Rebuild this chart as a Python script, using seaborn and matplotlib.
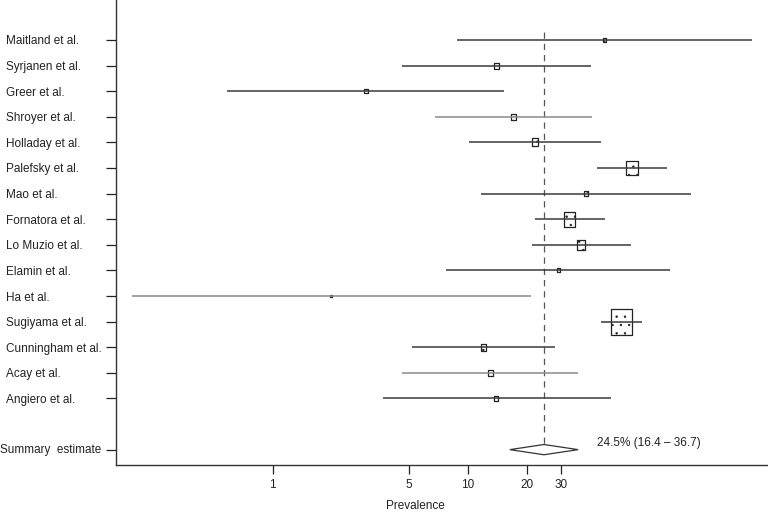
import numpy as np
import pandas as pd
import matplotlib
matplotlib.use("Agg")
import matplotlib.pyplot as plt
import matplotlib.transforms as mtransforms
from matplotlib.path import Path
import seaborn as sns

# study data (prevalence, %)
studies = ["Maitland et al.", "Syrjanen et al.", "Greer et al.", "Shroyer et al.",
           "Holladay et al.", "Palefsky et al.", "Mao et al.", "Fornatora et al.",
           "Lo Muzio et al.", "Elamin et al.", "Ha et al.", "Sugiyama et al.",
           "Cunningham et al.", "Acay et al.", "Angiero et al."]
estimate = [50.2, 14.0, 3.0, 17.1, 22.1, 69.6, 40.3, 33.1, 38.1, 29.2, 1.98, 61.1, 12.0, 13.0, 14.0]
ci_low = [8.8, 4.6, 0.58, 6.75, 10.1, 46.0, 11.7, 22.0, 21.3, 7.7, 0.19, 48.3, 5.16, 4.6, 3.67]
ci_high = [286, 42.6, 15.3, 43.1, 48.3, 105, 139, 50.2, 68.8, 109, 21.0, 77.8, 28.0, 36.8, 54.1]
weight = [4, 6, 4, 6, 8, 14.7, 5, 14.7, 10, 4, 2.5, 26, 7, 6, 5]  # box height, relative weight

summary_label = "Summary  estimate"
summary = [16.4, 24.5, 36.7]
xticks = [1, 5, 10, 20, 30]

df = pd.DataFrame({"study": studies, "est": estimate, "lo": ci_low,
                   "hi": ci_high, "w": weight})
df["row"] = np.arange(len(df))
df["s"] = (np.array(weight) * 0.72) ** 2
summary_row = len(df) + 1

sns.set_theme(style="ticks")
plt.rcParams["font.family"] = ["Liberation Sans", "DejaVu Sans"]
plt.rcParams["hatch.linewidth"] = 0.5
plt.rcParams["hatch.color"] = "#555555"

fig = plt.figure(figsize=(7.68, 5.12), dpi=100)
ax = fig.add_axes([0.151, 0.0918, 0.849, 0.9082])

line_col = "#3a3a3a"
light_rows = {"Shroyer et al.", "Ha et al.", "Acay et al."}
for _, r in df.iterrows():
    c = "#8a8a8a" if r["study"] in light_rows else line_col
    ax.hlines(r["row"], r["lo"], r["hi"], color=c, lw=1.1, zorder=3)

box = Path([(-0.4, -0.5), (0.4, -0.5), (0.4, 0.5), (-0.4, 0.5), (-0.4, -0.5)],
           [Path.MOVETO, Path.LINETO, Path.LINETO, Path.LINETO, Path.CLOSEPOLY])
smin, smax = df["s"].min(), df["s"].max()
sns.scatterplot(data=df, x="est", y="row", size="s", sizes=(smin, smax),
                size_norm=(smin, smax), marker=box, color="white",
                edgecolor="#222222", linewidth=0.9, legend=False, ax=ax, zorder=2)
ax.collections[-1].set_hatch("..")

# summary diamond and reference line
lo, mid, hi = summary
ax.fill([lo, mid, hi, mid], [summary_row, summary_row - 0.2, summary_row, summary_row + 0.2],
        facecolor="white", edgecolor="#333333", lw=0.9, zorder=4)
ax.plot([mid, mid], [-0.3, summary_row], color="#555555", lw=0.9,
        ls=(0, (5, 4)), zorder=1)
ax.text(45.7, summary_row - 0.25, f"{mid}% ({lo} \u2013 {hi})", fontsize=8.5,
        color="#222222", va="center", ha="left")

ax.set_xscale("log")
ax.set_xlim(0.157, 345)
ax.set_ylim(16.6, -1.56)
ax.set_xticks(xticks)
ax.set_xticklabels([str(t) for t in xticks])
ax.xaxis.set_minor_locator(matplotlib.ticker.NullLocator())
ax.set_yticks(list(df["row"]) + [summary_row])
ax.set_yticklabels(studies + [""])
ax.tick_params(axis="y", length=7, width=0.9, pad=72.5, labelsize=8.5,
               colors="#222222")
ax.tick_params(axis="x", length=6.5, width=0.9, labelsize=8.5, colors="#222222")
for lbl in ax.get_yticklabels():
    lbl.set_ha("left")

# summary label sits a bit further left than the study names
trans = mtransforms.blended_transform_factory(fig.transFigure, ax.transData)
fig.text(0.0, summary_row, summary_label, transform=trans, fontsize=8.5,
         color="#222222", ha="left", va="center")

ax.set_xlabel("Prevalence", fontsize=8.5, color="#222222")
ax.xaxis.set_label_coords(0.459, -0.075)
ax.set_ylabel("")
sns.despine(ax=ax)
for sp in ("left", "bottom"):
    ax.spines[sp].set_color("#333333")
    ax.spines[sp].set_linewidth(1.0)

fig.savefig("out.png", dpi=100)
